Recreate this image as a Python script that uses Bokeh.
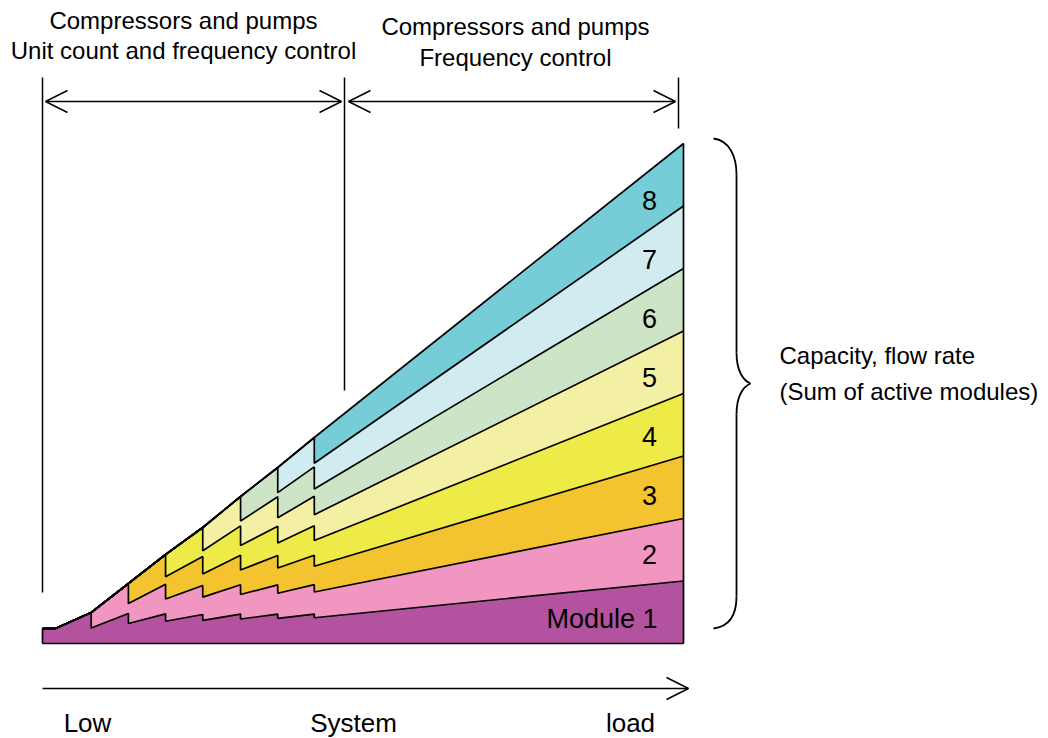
import numpy as np
from bokeh.plotting import figure
from bokeh.models import Range1d, Arrow, OpenHead
from bokeh.core.properties import value
from bokeh.embed import file_html
from bokeh.resources import INLINE

# ---------------- data ----------------
# system load (0 = left edge, 100 = right edge of the stacked area)
load_pts = [0.0, 2.0, 7.6, 13.4, 19.2, 25.0, 30.9, 36.7, 42.4, 100.0]
# total capacity / flow rate (sum of active modules), 100 = full capacity
total_capacity = [3.0, 3.0, 6.2, 12.0, 17.8, 23.2, 29.4, 35.2, 41.2, 100.0]
# number of active modules just before / just after each load point
active_before = [1, 1, 1, 2, 3, 4, 5, 6, 7, 8]
active_after = [1, 1, 2, 3, 4, 5, 6, 7, 8, 8]
module_labels = ["Module 1", "2", "3", "4", "5", "6", "7", "8"]
module_colors = ["#b3529e", "#f096c0", "#f4c430", "#eeea48",
                 "#f3f0a4", "#cee4c6", "#d0ecf0", "#76cdd8"]
load_labels = ["Low", "System", "load"]
top_left_text = ["Compressors and pumps", "Unit count and frequency control"]
top_right_text = ["Compressors and pumps", "Frequency control"]
right_text = ["Capacity, flow rate", "(Sum of active modules)"]

# ---------------- layout helpers (figure pixels -> data units) ----------------
W, H = 1040, 738
X0, SX = 42.0, 6.41     # pixel x of load 0, pixels per load unit
Y0, SY = 643.0, 5.0     # pixel y of capacity 0, pixels per capacity unit
def X(px): return (px - X0) / SX
def Y(py): return (Y0 - py) / SY

FONT = "Liberation Sans"
INK = "black"

p = figure(width=W, height=H, output_backend="svg", toolbar_location=None,
           x_range=Range1d(X(0), X(W)), y_range=Range1d(Y(H), Y(0)),
           x_axis_location=None, y_axis_location=None, min_border=0,
           outline_line_color=None, background_fill_color="white",
           border_fill_color="white")
p.grid.visible = False

def txt(xpx, ypx, s, size, align="center"):
    p.text(x=[X(xpx)], y=[Y(ypx)], text=[s], text_align=align, text_baseline="middle",
           text_font=value(FONT), text_font_size=size, text_color=INK)

# ---------------- build stacked boundaries ----------------
xs, tot, cnt = [], [], []
for L, T, nb, na in zip(load_pts, total_capacity, active_before, active_after):
    xs.append(L); tot.append(T); cnt.append(nb)
    if na != nb:
        xs.append(L); tot.append(T); cnt.append(na)
xs = np.array(xs); tot = np.array(tot); cnt = np.array(cnt)
share = tot / cnt
bounds = [np.zeros_like(xs)]
for j in range(1, 9):
    bounds.append(np.minimum(j, cnt) * share)

for j in range(1, 9):
    p.varea(x=xs, y1=bounds[j - 1], y2=bounds[j], fill_color=module_colors[j - 1])
lw = 1.7
for j in range(1, 9):
    p.line(xs, bounds[j], line_color=INK, line_width=lw)
# outer edges of the stack
p.line([load_pts[0], load_pts[-1]], [0, 0], line_color=INK, line_width=lw)
p.line([load_pts[-1], load_pts[-1]], [0, total_capacity[-1]], line_color=INK, line_width=lw)
p.line([load_pts[0], load_pts[0]], [0, total_capacity[0]], line_color=INK, line_width=lw)

# ---------------- module labels ----------------
lab_load = X(649)
lab_tot = np.interp(lab_load, load_pts, total_capacity)
lab_share = lab_tot / 8
mids = [(j - 0.5) * lab_share for j in range(1, 9)]
p.text(x=[X(657)], y=[mids[0] - 1.0], text=[module_labels[0]], text_align="right",
       text_baseline="middle", text_font=value(FONT), text_font_size="27px", text_color=INK)
p.text(x=[lab_load] * 7, y=mids[1:], text=module_labels[1:], text_align="center",
       text_baseline="middle", text_font=value(FONT), text_font_size="27px", text_color=INK)

# ---------------- control-range annotations ----------------
p.segment(x0=[X(42), X(344), X(678)], y0=[Y(77), Y(77), Y(77)],
          x1=[X(42), X(344), X(678)], y1=[Y(592), Y(390), Y(128)],
          line_color=INK, line_width=1.5)
for xa, xb in [(45, 341), (348, 675)]:
    p.add_layout(Arrow(x_start=X(xa), y_start=Y(101), x_end=X(xb), y_end=Y(101),
                       start=OpenHead(size=22, line_width=1.5, line_color=INK),
                       end=OpenHead(size=22, line_width=1.5, line_color=INK),
                       line_width=1.5, line_color=INK))
for s, yc in zip(top_left_text, [20, 50]):
    txt(183, yc, s, "24px")
for s, yc in zip(top_right_text, [26, 57]):
    txt(515, yc, s, "24px")

# ---------------- load axis arrow ----------------
p.add_layout(Arrow(x_start=X(42), y_start=Y(688), x_end=X(688), y_end=Y(688),
                   end=OpenHead(size=22, line_width=1.5, line_color=INK),
                   line_width=1.5, line_color=INK))
for s, xc in zip(load_labels, [87, 353, 630]):
    txt(xc, 722, s, "26px")

# ---------------- brace ----------------
bx, tip = 736, 750
p.bezier(x0=[X(713), X(bx), X(tip), X(bx)],
         y0=[Y(138), Y(352), Y(383), Y(596)],
         x1=[X(bx), X(tip), X(bx), X(713)],
         y1=[Y(174), Y(383), Y(414), Y(628)],
         cx0=[X(729), X(bx), X(743), X(bx)],
         cy0=[Y(140), Y(371), Y(386), Y(614)],
         cx1=[X(bx), X(743), X(bx), X(729)],
         cy1=[Y(156), Y(380), Y(395), Y(626)],
         line_color=INK, line_width=1.8)
p.segment(x0=[X(bx), X(bx)], y0=[Y(174), Y(414)], x1=[X(bx), X(bx)], y1=[Y(352), Y(596)],
          line_color=INK, line_width=1.8)
for s, yc in zip(right_text, [355, 391]):
    txt(779, yc, s, "24px", align="left")

open("out.html", "w").write(file_html(p, INLINE))
